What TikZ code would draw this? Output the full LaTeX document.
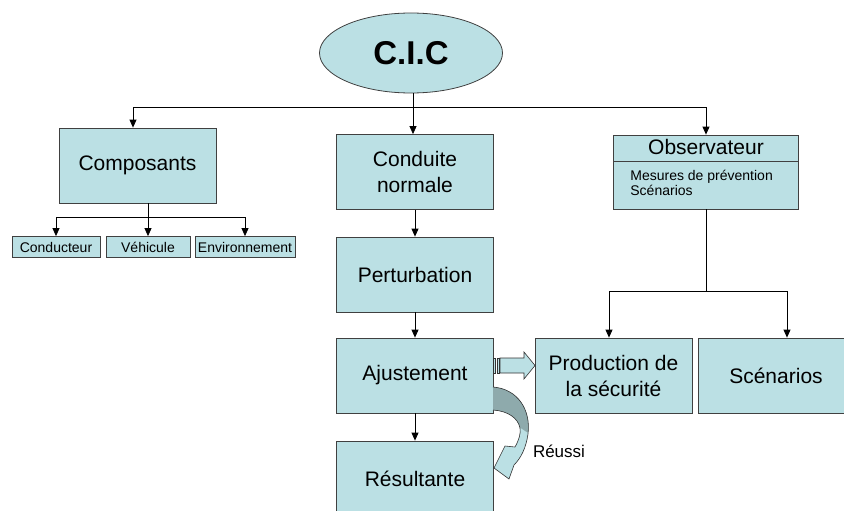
\documentclass[tikz,border=0pt]{standalone}
\usepackage{fontspec}
\setmainfont{Liberation Sans}
\usetikzlibrary{arrows.meta}
\usetikzlibrary{shapes.geometric}

\definecolor{cicfill}{RGB}{187,224,228}
\definecolor{cicdark}{RGB}{142,170,172}

\begin{document}
\begin{tikzpicture}[x=1pt,y=-1pt,line width=0.8pt,
  bx/.style={draw=black!75,fill=cicfill,minimum width=157pt,minimum height=75pt,inner sep=0pt,align=center,font=\fontsize{21}{26}\selectfont},
  sbx/.style={draw=black!75,fill=cicfill,minimum height=21pt,inner sep=0pt,font=\fontsize{14}{16}\selectfont},
  tip/.style={-{Triangle[length=8pt,width=7pt]}}]
\useasboundingbox (0,0) rectangle (844,511);

\node[ellipse,draw=black!75,fill=cicfill,minimum width=183pt,minimum height=80pt,inner sep=0pt,font=\fontsize{33}{36}\selectfont\bfseries] (CIC) at (411,53) {C.I.C};

\node[bx] (Co) at (137.5,165.5) {Composants};
\node[sbx,minimum width=88pt] (Co1) at (56,247) {Conducteur};
\node[sbx,minimum width=84pt] (Co2) at (148,247) {Véhicule};
\node[sbx,minimum width=100pt] (Co3) at (245,247) {Environnement};

\node[bx] (N1) at (415,172) {Conduite\\normale};
\node[bx] (N2) at (415,274.5) {Perturbation};
\node[bx] (N3) at (415,375.5) {Ajustement};
\node[bx] (N4) at (415,478.5) {Résultante};

\node[bx,minimum width=185pt,minimum height=74pt] (Ob) at (706,172) {};
\node[font=\fontsize{21}{24}\selectfont] (ObT) at (706,147) {Observateur};
\node[anchor=north west,align=left,inner sep=0pt,font=\fontsize{14}{15}\selectfont] (ObL) at (630,170) {Mesures de prévention\\Scénarios};
\draw[draw=black!75] ([yshift=-27pt]Ob.north west) -- ([yshift=-27pt]Ob.north east);

\node[bx] (Pr) at (613.5,375.5) {Production de\\la sécurité};
\node[bx,minimum width=156pt] (Sc) at (776,375.5) {Scénarios};

\coordinate (H) at (413,107);
\draw (CIC.south -| H) -- (H);
\draw[tip] (H) -| ([xshift=-4.5pt]Co.north);
\draw[tip] (H) -- (H |- N1.north);
\draw[tip] (H) -| (Ob.north);

\coordinate (F1) at (148,217);
\draw (Co.south -| F1) -- (F1);
\draw[tip] (F1) -| (Co1.north);
\draw[tip] (F1) -- (Co2.north);
\draw[tip] (F1) -| (Co3.north);

\draw[tip] (N1) -- (N2);
\draw[tip] (N2) -- (N3);
\draw[tip] (N3) -- (N4);

\coordinate (F2) at (706,291);
\draw (Ob) -- (F2);
\draw[tip] (F2) -| ([xshift=-4.5pt]Pr.north);
\draw[tip] (F2) -| ([xshift=11pt]Sc.north);

% striped arrow
\draw[draw=black!80,fill=cicfill,line width=0.6pt] (500,358) -- (524,358) -- (524,352) -- (535,365.5) -- (524,379) -- (524,373) -- (500,373) -- cycle;
\draw[draw=black!80,fill=cicfill,line width=0.6pt] (493.5,358) rectangle (495.5,373) (496.8,358) rectangle (498.8,373);

% curved arrow
\begin{scope}
\clip (493,387) .. controls (518,389) and (531,410) .. (528,434) .. controls (526,448) and (521,458) .. (514,465) -- (509,479) -- (494,468) -- (505,446) -- (515,447) .. controls (519,440) and (521,433) .. (520,428) .. controls (518,418) and (508,411) .. (493,410) -- cycle;
\fill[cicfill] (490,380) rectangle (540,490);
\fill[cicdark] (490,380) -- (540,380) -- (540,441) -- (520,427.5) -- (490,420) -- cycle;
\end{scope}
\draw[draw=black!80,line width=0.6pt] (493,387) .. controls (518,389) and (531,410) .. (528,434) .. controls (526,448) and (521,458) .. (514,465) -- (509,479) -- (494,468) -- (505,446) -- (515,447) .. controls (519,440) and (521,433) .. (520,428) .. controls (518,418) and (508,411) .. (493,410);
\node[font=\fontsize{17}{19}\selectfont] (Re) at (559,451) {Réussi};
\end{tikzpicture}
\end{document}
